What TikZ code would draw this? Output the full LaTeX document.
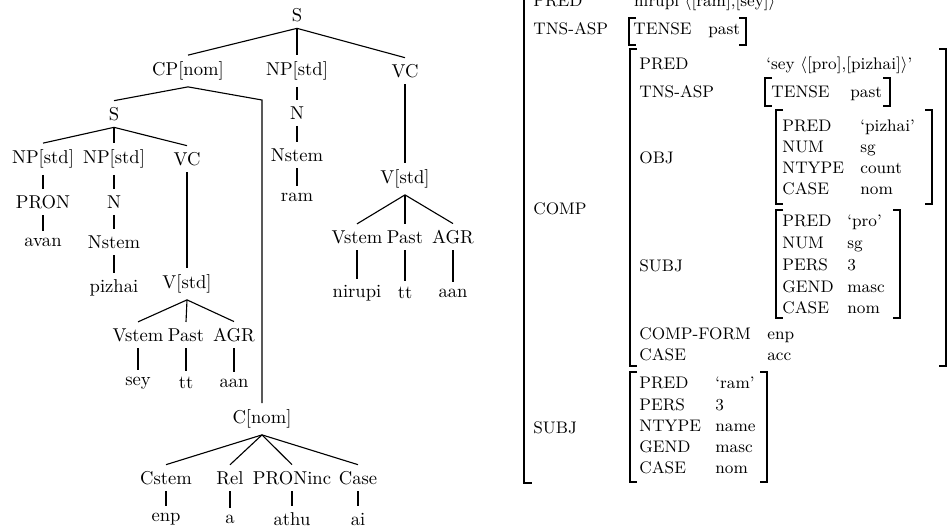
\documentclass[tikz,border=0pt]{standalone}
\usepackage{tikz}
\newcommand{\avmbrk}[4]{%
  \draw[brk] (#1+7,#2) -| (#1,#4) -- (#1+7,#4);
  \draw[brk] (#3-7,#2) -| (#3,#4) -- (#3-7,#4);}

\begin{document}
\begin{tikzpicture}[
    x=0.5376pt, y=-0.5376pt,
    cat/.style={font=\normalsize},
    branch/.style={line width=0.6pt},
    feat/.style={font=\small, anchor=base west, inner sep=0pt},
    brk/.style={line width=0.95pt}
]
\useasboundingbox (0,0) rectangle (950,531);
\clip (0,0) rectangle (950,531);

% c-structure
\node[cat] (s) at (297,15) {S};
\node[cat] (cp) at (188,71) {CP[nom]};
\node[cat] (np) at (297,71) {NP[std]};
\node[cat] (vc) at (405,71) {VC};
\node[cat] (n) at (297,113) {N};
\node[cat] (nstem) at (297,155) {Nstem};
\node[cat] (ram) at (297,197) {ram};
\node[cat] (v) at (405,179) {V[std]};
\node[cat] (vstem) at (357,237) {Vstem};
\node[cat] (past) at (405,237) {Past};
\node[cat] (agr) at (453,237) {AGR};
\node[cat] (nirupi) at (357,293) {nirupi};
\node[cat] (tt) at (405,293) {tt};
\node[cat] (aan) at (453,293) {aan};

\node[cat] (s2) at (114,114) {S};
\node[cat] (np2a) at (43,159) {NP[std]};
\node[cat] (np2b) at (114,159) {NP[std]};
\node[cat] (vc2) at (187,159) {VC};
\node[cat] (pron) at (43,202) {PRON};
\node[cat] (avan) at (43,242) {avan};
\node[cat] (n2) at (114,202) {N};
\node[cat] (nstem2) at (114,242) {Nstem};
\node[cat] (pizhai) at (114,288) {pizhai};
\node[cat] (v2) at (187,284) {V[std]};
\node[cat] (vstem2) at (138,335) {Vstem};
\node[cat] (past2) at (186,335) {Past};
\node[cat] (agr2) at (234,335) {AGR};
\node[cat] (sey) at (138,383) {sey};
\node[cat] (tt2) at (186,383) {tt};
\node[cat] (aan2) at (234,383) {aan};

\coordinate (bend) at (262,100);
\node[cat] (cnom) at (262,419) {C[nom]};
\node[cat] (cstem) at (166,478) {Cstem};
\node[cat] (rel) at (230,478) {Rel};
\node[cat] (proninc) at (292,478) {PRONinc};
\node[cat] (case) at (358,478) {Case};
\node[cat] (enp) at (166,519) {enp};
\node[cat] (a) at (230,519) {a};
\node[cat] (athu) at (292,519) {athu};
\node[cat] (ai) at (358,519) {ai};

\draw[branch] (s.south) -- (cp.north);
\draw[branch] (s.south) -- (np.north);
\draw[branch] (s.south) -- (vc.north);
\draw[branch] (np.south) -- (n.north);
\draw[branch] (n.south) -- (nstem.north);
\draw[branch] (nstem.south) -- (ram.north);
\draw[branch] (vc.south) -- (v.north);
\draw[branch] (v.south) -- (vstem.north);
\draw[branch] (v.south) -- (past.north);
\draw[branch] (v.south) -- (agr.north);
\draw[branch] (vstem.south) -- (nirupi.north);
\draw[branch] (past.south) -- (tt.north);
\draw[branch] (agr.south) -- (aan.north);

\draw[branch] (cp.south) -- (s2.north);
\draw[branch] (cp.south) -- (bend) -- (cnom.north);
\draw[branch] (s2.south) -- (np2a.north);
\draw[branch] (s2.south) -- (np2b.north);
\draw[branch] (s2.south) -- (vc2.north);
\draw[branch] (np2a.south) -- (pron.north);
\draw[branch] (pron.south) -- (avan.north);
\draw[branch] (np2b.south) -- (n2.north);
\draw[branch] (n2.south) -- (nstem2.north);
\draw[branch] (nstem2.south) -- (pizhai.north);
\draw[branch] (vc2.south) -- (v2.north);
\draw[branch] (v2.south) -- (vstem2.north);
\draw[branch] (v2.south) -- (past2.north);
\draw[branch] (v2.south) -- (agr2.north);
\draw[branch] (vstem2.south) -- (sey.north);
\draw[branch] (past2.south) -- (tt2.north);
\draw[branch] (agr2.south) -- (aan2.north);

\draw[branch] (cnom.south) -- (cstem.north);
\draw[branch] (cnom.south) -- (rel.north);
\draw[branch] (cnom.south) -- (proninc.north);
\draw[branch] (cnom.south) -- (case.north);
\draw[branch] (cstem.south) -- (enp.north);
\draw[branch] (rel.south) -- (a.north);
\draw[branch] (proninc.south) -- (athu.north);
\draw[branch] (case.south) -- (ai.north);

% f-structure
\draw[brk] (532,-20) -- (524,-20) -- (524,483) -- (532,483);

\node[feat] (fpred) at (533,6) {PRED};
\node[feat] (fpredv) at (629,6) {`nirupi $\langle$[ram],[sey]$\rangle$'};
\node[feat] (ftns) at (533,34) {TNS-ASP};
\node[feat] (ftense) at (633,34) {TENSE};
\node[feat] (ftensev) at (708,34) {past};
\avmbrk{629}{18}{746}{45}
\node[feat] (fcomp) at (533,214) {COMP};
\node[feat] (fsubj) at (533,433) {SUBJ};

% COMP
\avmbrk{630}{49}{946}{366}
\node[feat] (cpred) at (639,69) {PRED};
\node[feat] (cpredv) at (766,69) {`sey $\langle$[pro],[pizhai]$\rangle$'};
\node[feat] (ctns) at (639,97) {TNS-ASP};
\node[feat] (ctense) at (771,97) {TENSE};
\node[feat] (ctensev) at (850,97) {past};
\avmbrk{765}{78}{890}{106}
\node[feat] (cobj) at (639,163) {OBJ};
\node[feat] (csubj) at (639,271) {SUBJ};
\node[feat] (cform) at (639,339) {COMP-FORM};
\node[feat] (cformv) at (767,339) {enp};
\node[feat] (ccase) at (639,360) {CASE};
\node[feat] (ccasev) at (767,360) {acc};

% OBJ
\avmbrk{776}{110}{932}{204}
\node[feat] (opred) at (782,131) {PRED};
\node[feat] (opredv) at (860,131) {`pizhai'};
\node[feat] (onum) at (782,152) {NUM};
\node[feat] (onumv) at (860,152) {sg};
\node[feat] (ontype) at (782,173) {NTYPE};
\node[feat] (ontypev) at (860,173) {count};
\node[feat] (ocase) at (782,194) {CASE};
\node[feat] (ocasev) at (860,194) {nom};

% SUBJ inside COMP
\avmbrk{776}{210}{900}{318}
\node[feat] (spred) at (782,226) {PRED};
\node[feat] (spredv) at (847,226) {`pro'};
\node[feat] (snum) at (782,248) {NUM};
\node[feat] (snumv) at (847,248) {sg};
\node[feat] (spers) at (782,270) {PERS};
\node[feat] (spersv) at (847,270) {3};
\node[feat] (sgend) at (782,292) {GEND};
\node[feat] (sgendv) at (847,292) {masc};
\node[feat] (scase) at (782,313) {CASE};
\node[feat] (scasev) at (847,313) {nom};

% SUBJ
\avmbrk{630}{372}{767}{482}
\node[feat] (rpred) at (639,388) {PRED};
\node[feat] (rpredv) at (715,388) {`ram'};
\node[feat] (rpers) at (639,410) {PERS};
\node[feat] (rpersv) at (715,410) {3};
\node[feat] (rntype) at (639,431) {NTYPE};
\node[feat] (rntypev) at (715,431) {name};
\node[feat] (rgend) at (639,452) {GEND};
\node[feat] (rgendv) at (715,452) {masc};
\node[feat] (rcase) at (639,473) {CASE};
\node[feat] (rcasev) at (715,473) {nom};

\end{tikzpicture}
\end{document}
